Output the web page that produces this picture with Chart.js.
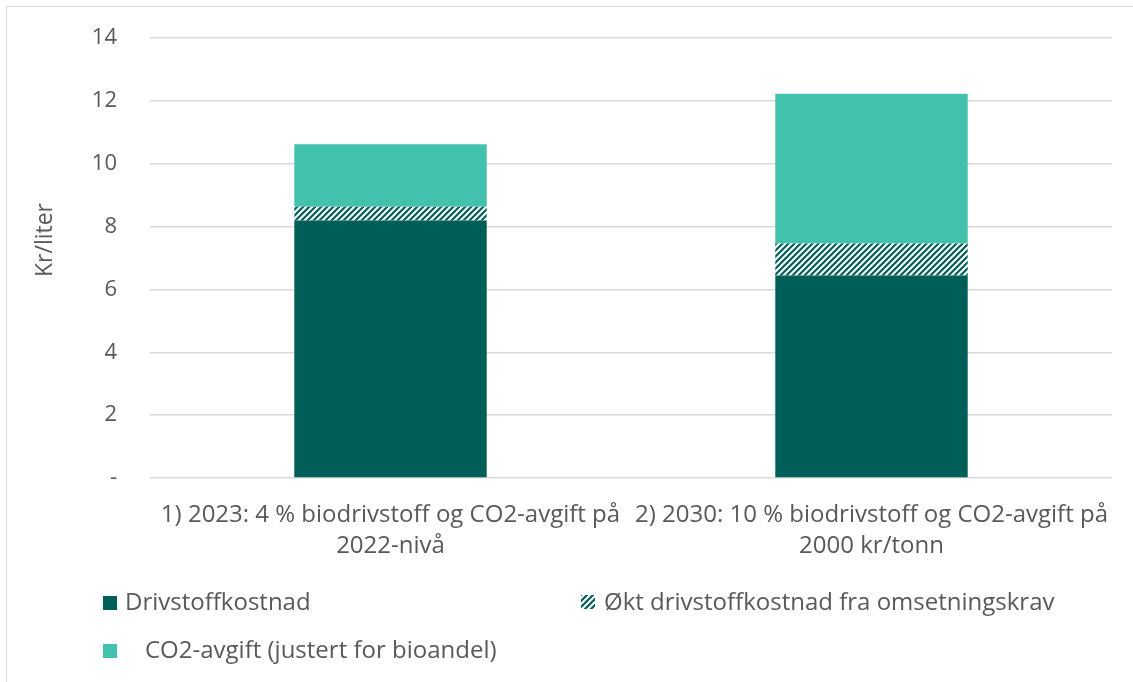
<!DOCTYPE html>
<html>
<head>
<meta charset="utf-8">
<script src="https://cdn.jsdelivr.net/npm/chart.js@4/dist/chart.umd.min.js"></script>
<style>
  html, body { margin: 0; padding: 0; background: #fff; }
  #wrap { position: relative; width: 1133px; height: 682px; }
  #frame { position: absolute; left: 6px; top: 6px; right: -2px; bottom: -2px;
           border-left: 1.5px solid #d9d9d9; border-top: 1.5px solid #d9d9d9; pointer-events: none; }
</style>
</head>
<body>
<div id="wrap">
  <canvas id="chart"></canvas>
  <div id="frame"></div>
</div>
<script>
// chart data
const categories = [
  ['1) 2023: 4 % biodrivstoff og CO2-avgift på', '2022-nivå'],
  ['2) 2030: 10 % biodrivstoff og CO2-avgift på', '2000 kr/tonn']
];
const seriesNames = ['Drivstoffkostnad', 'Økt drivstoffkostnad fra omsetningskrav', 'CO2-avgift (justert for bioandel)'];
const drivstoff = [8.19, 6.44];
const omsetningskrav = [0.44, 1.02];
const co2Avgift = [1.99, 4.77];
const yTicks = [0, 2, 4, 6, 8, 10, 12, 14];
const yTitle = 'Kr/liter';

const DARK = '#005e59';
const LIGHT = '#42c1ac';
const TEXT = '#595959';
const FONT = '"Open Sans", sans-serif';

// diagonal hatch pattern for the middle segment
function makeHatch() {
  const s = 6;
  const c = document.createElement('canvas');
  c.width = s; c.height = s;
  const g = c.getContext('2d');
  g.fillStyle = '#fff';
  g.fillRect(0, 0, s, s);
  g.strokeStyle = DARK;
  g.lineWidth = 2.2;
  g.beginPath();
  g.moveTo(0, s); g.lineTo(s, 0);
  g.moveTo(-1, 1); g.lineTo(1, -1);
  g.moveTo(s - 1, s + 1); g.lineTo(s + 1, s - 1);
  g.stroke();
  return g.createPattern(c, 'repeat');
}
const hatch = makeHatch();

// legend laid out like the original (two columns, second row)
const legendSpots = [
  { box: [103, 596], text: [125, 603] },
  { box: [581, 595], text: [604, 603] },
  { box: [103, 644], text: [145, 651] }
];
const customLegend = {
  id: 'customLegend',
  afterDraw(chart) {
    const ctx = chart.ctx;
    ctx.save();
    ctx.font = '24px ' + FONT;
    ctx.textBaseline = 'middle';
    chart.data.datasets.forEach((ds, i) => {
      const p = legendSpots[i];
      ctx.fillStyle = ds.backgroundColor;
      ctx.fillRect(p.box[0], p.box[1], 14, 14);
      ctx.fillStyle = TEXT;
      ctx.fillText(ds.label, p.text[0], p.text[1]);
    });
    // y axis title, sits a little above the plot's middle in the original
    ctx.translate(45, 240);
    ctx.rotate(-Math.PI / 2);
    ctx.textAlign = 'center';
    ctx.font = '23px ' + FONT;
    ctx.fillStyle = TEXT;
    ctx.fillText(yTitle, 0, 0);
    ctx.restore();
  }
};

new Chart(document.getElementById('chart'), {
  type: 'bar',
  data: {
    labels: categories,
    datasets: [
      { label: seriesNames[0], data: drivstoff, backgroundColor: DARK },
      { label: seriesNames[1], data: omsetningskrav, backgroundColor: hatch },
      { label: seriesNames[2], data: co2Avgift, backgroundColor: LIGHT }
    ]
  },
  options: {
    responsive: true,
    maintainAspectRatio: false,
    animation: false,
    categoryPercentage: 1,
    barPercentage: 0.4,
    layout: { padding: { left: 0, right: 21, top: 38, bottom: 114 } },
    scales: {
      x: {
        stacked: true,
        grid: { display: false },
        border: { display: false },
        ticks: { color: TEXT, font: { family: FONT, size: 24, lineHeight: '31px' },
                 padding: 14, maxRotation: 0, autoSkip: false },
        afterFit(scale) {
          scale.height = 90;
          scale.paddingLeft = 0;
          scale.paddingRight = 0;
        }
      },
      y: {
        stacked: true,
        min: 0,
        max: 14,
        afterBuildTicks(scale) { scale.ticks = yTicks.map(v => ({ value: v })); },
        grid: { color: '#d9d9d9', lineWidth: 1.5, drawTicks: false },
        border: { display: false },
        ticks: {
          color: TEXT, font: { family: FONT, size: 22 }, padding: 33,
          callback: v => (v === 0 ? '-' : v)
        },
        afterFit(scale) {
          scale.width = 150;
          scale.paddingTop = 0;
          scale.paddingBottom = 0;
        }
      }
    },
    plugins: {
      legend: { display: false },
      tooltip: { enabled: false }
    }
  },
  plugins: [customLegend]
});
</script>
</body>
</html>
